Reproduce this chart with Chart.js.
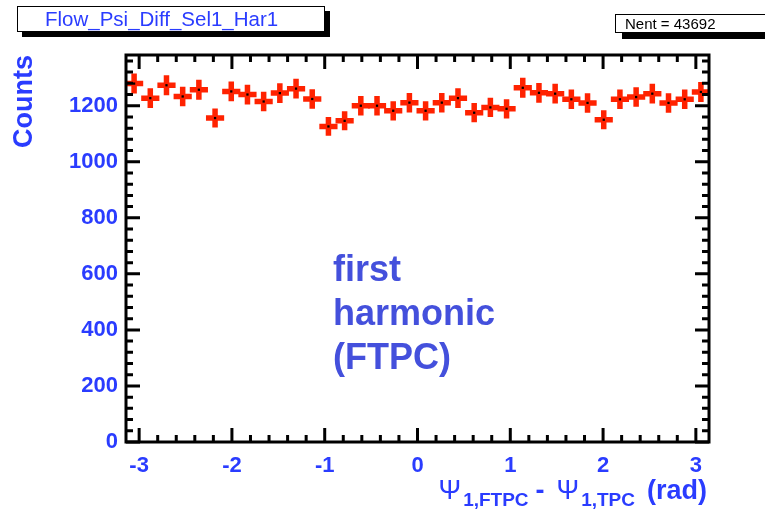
<!DOCTYPE html>
<html>
<head>
<meta charset="utf-8">
<title>Flow_Psi_Diff_Sel1_Har1</title>
<script src="https://cdn.jsdelivr.net/npm/chart.js@4.4.1/dist/chart.umd.min.js"></script>
<style>
  body { margin: 0; background: #fff; }
  #wrap {
    position: relative; width: 765px; height: 510px; overflow: hidden;
    font-family: "Liberation Sans", Arial, sans-serif;
  }
  #wrap canvas { position: absolute; left: 0; top: 0; }
  .histTitle {
    position: absolute; left: 17px; top: 6px; width: 308px; height: 26px;
    box-sizing: border-box; border: 1px solid #000; background: #fff;
    box-shadow: 5px 5px 0 #000; padding-left: 27px;
    font-size: 20.5px; line-height: 24px; color: #2a3cff; white-space: nowrap;
  }
  .stats {
    position: absolute; left: 615px; top: 14px; width: 170px; height: 19px;
    box-sizing: border-box; border: 1px solid #000; background: #fff;
    box-shadow: 7px 6px 0 #000; padding-left: 9px;
    font-size: 15px; line-height: 17px; color: #000; white-space: nowrap;
  }
  .note {
    position: absolute; left: 333px; top: 247px;
    font-weight: bold; font-size: 36px; line-height: 44px; color: #4450dc;
  }
  .xTitle {
    position: absolute; right: 58px; top: 474px;
    font-weight: bold; font-size: 27px; line-height: 32px; color: #2a3cff;
    white-space: nowrap;
  }
  .xTitle .psi { font-weight: normal; }
  .xTitle sub { font-size: 19px; vertical-align: -7px; line-height: 0; margin-left: 2px; }
  .xTitle .minus { margin: 0 12px 0 7px; }
  .xTitle .unit { margin-left: 12px; }
</style>
</head>
<body>
<div id="wrap">
  <canvas id="psiChart" width="765" height="510"></canvas>
  <div class="histTitle">Flow_Psi_Diff_Sel1_Har1</div>
  <div class="stats">Nent = 43692</div>
  <div class="note">first<br>harmonic<br>(FTPC)</div>
  <div class="xTitle"><span class="psi">Ψ</span><sub>1,FTPC</sub><span class="minus">-</span><span class="psi">Ψ</span><sub>1,TPC</sub><span class="unit">(rad)</span></div>
</div>
<script>
// bin centres of the 36-bin histogram over [-pi, pi]
const binCenters = [
  -3.0543, -2.8798, -2.7053, -2.5307, -2.3562, -2.1817, -2.0071, -1.8326, -1.6581,
  -1.4835, -1.3090, -1.1345, -0.9599, -0.7854, -0.6109, -0.4363, -0.2618, -0.0873,
  0.0873, 0.2618, 0.4363, 0.6109, 0.7854, 0.9599, 1.1345, 1.3090, 1.4835,
  1.6581, 1.8326, 2.0071, 2.1817, 2.3562, 2.5307, 2.7053, 2.8798, 3.0543
];
// entries per bin
const counts = [
  1279, 1227, 1273, 1233, 1257, 1156, 1251, 1240, 1215,
  1245, 1261, 1224, 1126, 1146, 1200, 1200, 1182, 1211,
  1182, 1211, 1227, 1175, 1194, 1189, 1264, 1246, 1243,
  1223, 1210, 1150, 1223, 1231, 1243, 1210, 1223, 1249
];
const xTickValues = [-3, -2, -1, 0, 1, 2, 3];
const yTickValues = [0, 200, 400, 600, 800, 1000, 1200];

const axisBlue = "#2a3cff";
const markerRed = "#ff2200";
const fontFamily = '"Liberation Sans", Arial, sans-serif';

// draws the error crosses under the points, and the framed axes with inward ticks on top
const histFrame = {
  id: "histFrame",
  beforeDatasetsDraw(chart) {
    const { ctx, chartArea, scales: { x, y } } = chart;
    const halfBin = (binCenters[1] - binCenters[0]) / 2;
    ctx.save();
    ctx.beginPath();
    ctx.rect(chartArea.left, chartArea.top, chartArea.right - chartArea.left, chartArea.bottom - chartArea.top);
    ctx.clip();
    ctx.strokeStyle = markerRed;
    ctx.lineWidth = 5.5;
    binCenters.forEach((c, i) => {
      const n = counts[i];
      const err = Math.sqrt(n); // poisson error on the bin content
      const px = x.getPixelForValue(c);
      const py = y.getPixelForValue(n);
      ctx.beginPath();
      ctx.moveTo(x.getPixelForValue(c - halfBin) - 1, py);
      ctx.lineTo(x.getPixelForValue(c + halfBin) + 1, py);
      ctx.moveTo(px, y.getPixelForValue(n - err));
      ctx.lineTo(px, y.getPixelForValue(n + err));
      ctx.stroke();
    });
    ctx.restore();
  },
  afterDraw(chart) {
    const { ctx, chartArea: a, scales: { x, y } } = chart;
    const majorLen = 14, minorLen = 7;
    ctx.save();
    ctx.strokeStyle = "#000";
    ctx.lineWidth = 3;

    const minorsOf = (scale, majors) => {
      const step = (majors[1] - majors[0]) / 5;
      const out = [];
      let v = majors[0];
      while (v - step >= scale.min) v -= step;
      for (; v <= scale.max + 1e-9; v += step) out.push(v);
      return out;
    };

    ctx.beginPath();
    // x ticks, bottom and top
    const tickX = (v, len) => {
      const p = x.getPixelForValue(v);
      ctx.moveTo(p, a.bottom); ctx.lineTo(p, a.bottom - len);
      ctx.moveTo(p, a.top); ctx.lineTo(p, a.top + len);
    };
    minorsOf(x, xTickValues).forEach(v => tickX(v, minorLen));
    xTickValues.forEach(v => tickX(v, majorLen));
    // y ticks, left and right
    const tickY = (v, len) => {
      const p = y.getPixelForValue(v);
      ctx.moveTo(a.left, p); ctx.lineTo(a.left + len, p);
      ctx.moveTo(a.right, p); ctx.lineTo(a.right - len, p);
    };
    minorsOf(y, yTickValues).forEach(v => tickY(v, minorLen));
    yTickValues.forEach(v => tickY(v, majorLen));
    ctx.stroke();

    ctx.strokeRect(a.left, a.top, a.right - a.left, a.bottom - a.top);
    ctx.restore();
  }
};

const points = binCenters.map((c, i) => ({ x: c, y: counts[i] }));

new Chart(document.getElementById("psiChart"), {
  type: "scatter",
  data: {
    datasets: [{
      label: "Flow_Psi_Diff_Sel1_Har1",
      data: points,
      pointStyle: "rect",
      pointRadius: 1.6,
      pointBackgroundColor: "#000",
      pointBorderWidth: 0,
    }],
  },
  options: {
    responsive: false,
    animation: false,
    layout: { padding: { top: 55, right: 56, left: 0, bottom: 0 } },
    plugins: {
      legend: { display: false },
      tooltip: { enabled: false },
    },
    scales: {
      x: {
        type: "linear",
        min: -Math.PI,
        max: Math.PI,
        afterBuildTicks: (scale) => { scale.ticks = xTickValues.map(v => ({ value: v })); },
        afterFit: (scale) => { scale.height = 68; },
        grid: { display: false, drawTicks: false },
        border: { display: false },
        ticks: {
          color: axisBlue,
          padding: 11,
          font: { family: fontFamily, size: 22, weight: "bold" },
          callback: (v) => String(v),
        },
      },
      y: {
        min: 0,
        max: 1381,
        afterBuildTicks: (scale) => { scale.ticks = yTickValues.map(v => ({ value: v })); },
        afterFit: (scale) => { scale.width = 126; },
        grid: { display: false, drawTicks: false },
        border: { display: false },
        ticks: {
          color: axisBlue,
          padding: 8,
          font: { family: fontFamily, size: 22, weight: "bold" },
          callback: (v) => String(v),
        },
        title: {
          display: true,
          text: "Counts",
          align: "end",
          color: axisBlue,
          padding: { top: 8, bottom: 0 },
          font: { family: fontFamily, size: 27, weight: "bold" },
        },
      },
    },
  },
  plugins: [histFrame],
});
</script>
</body>
</html>
